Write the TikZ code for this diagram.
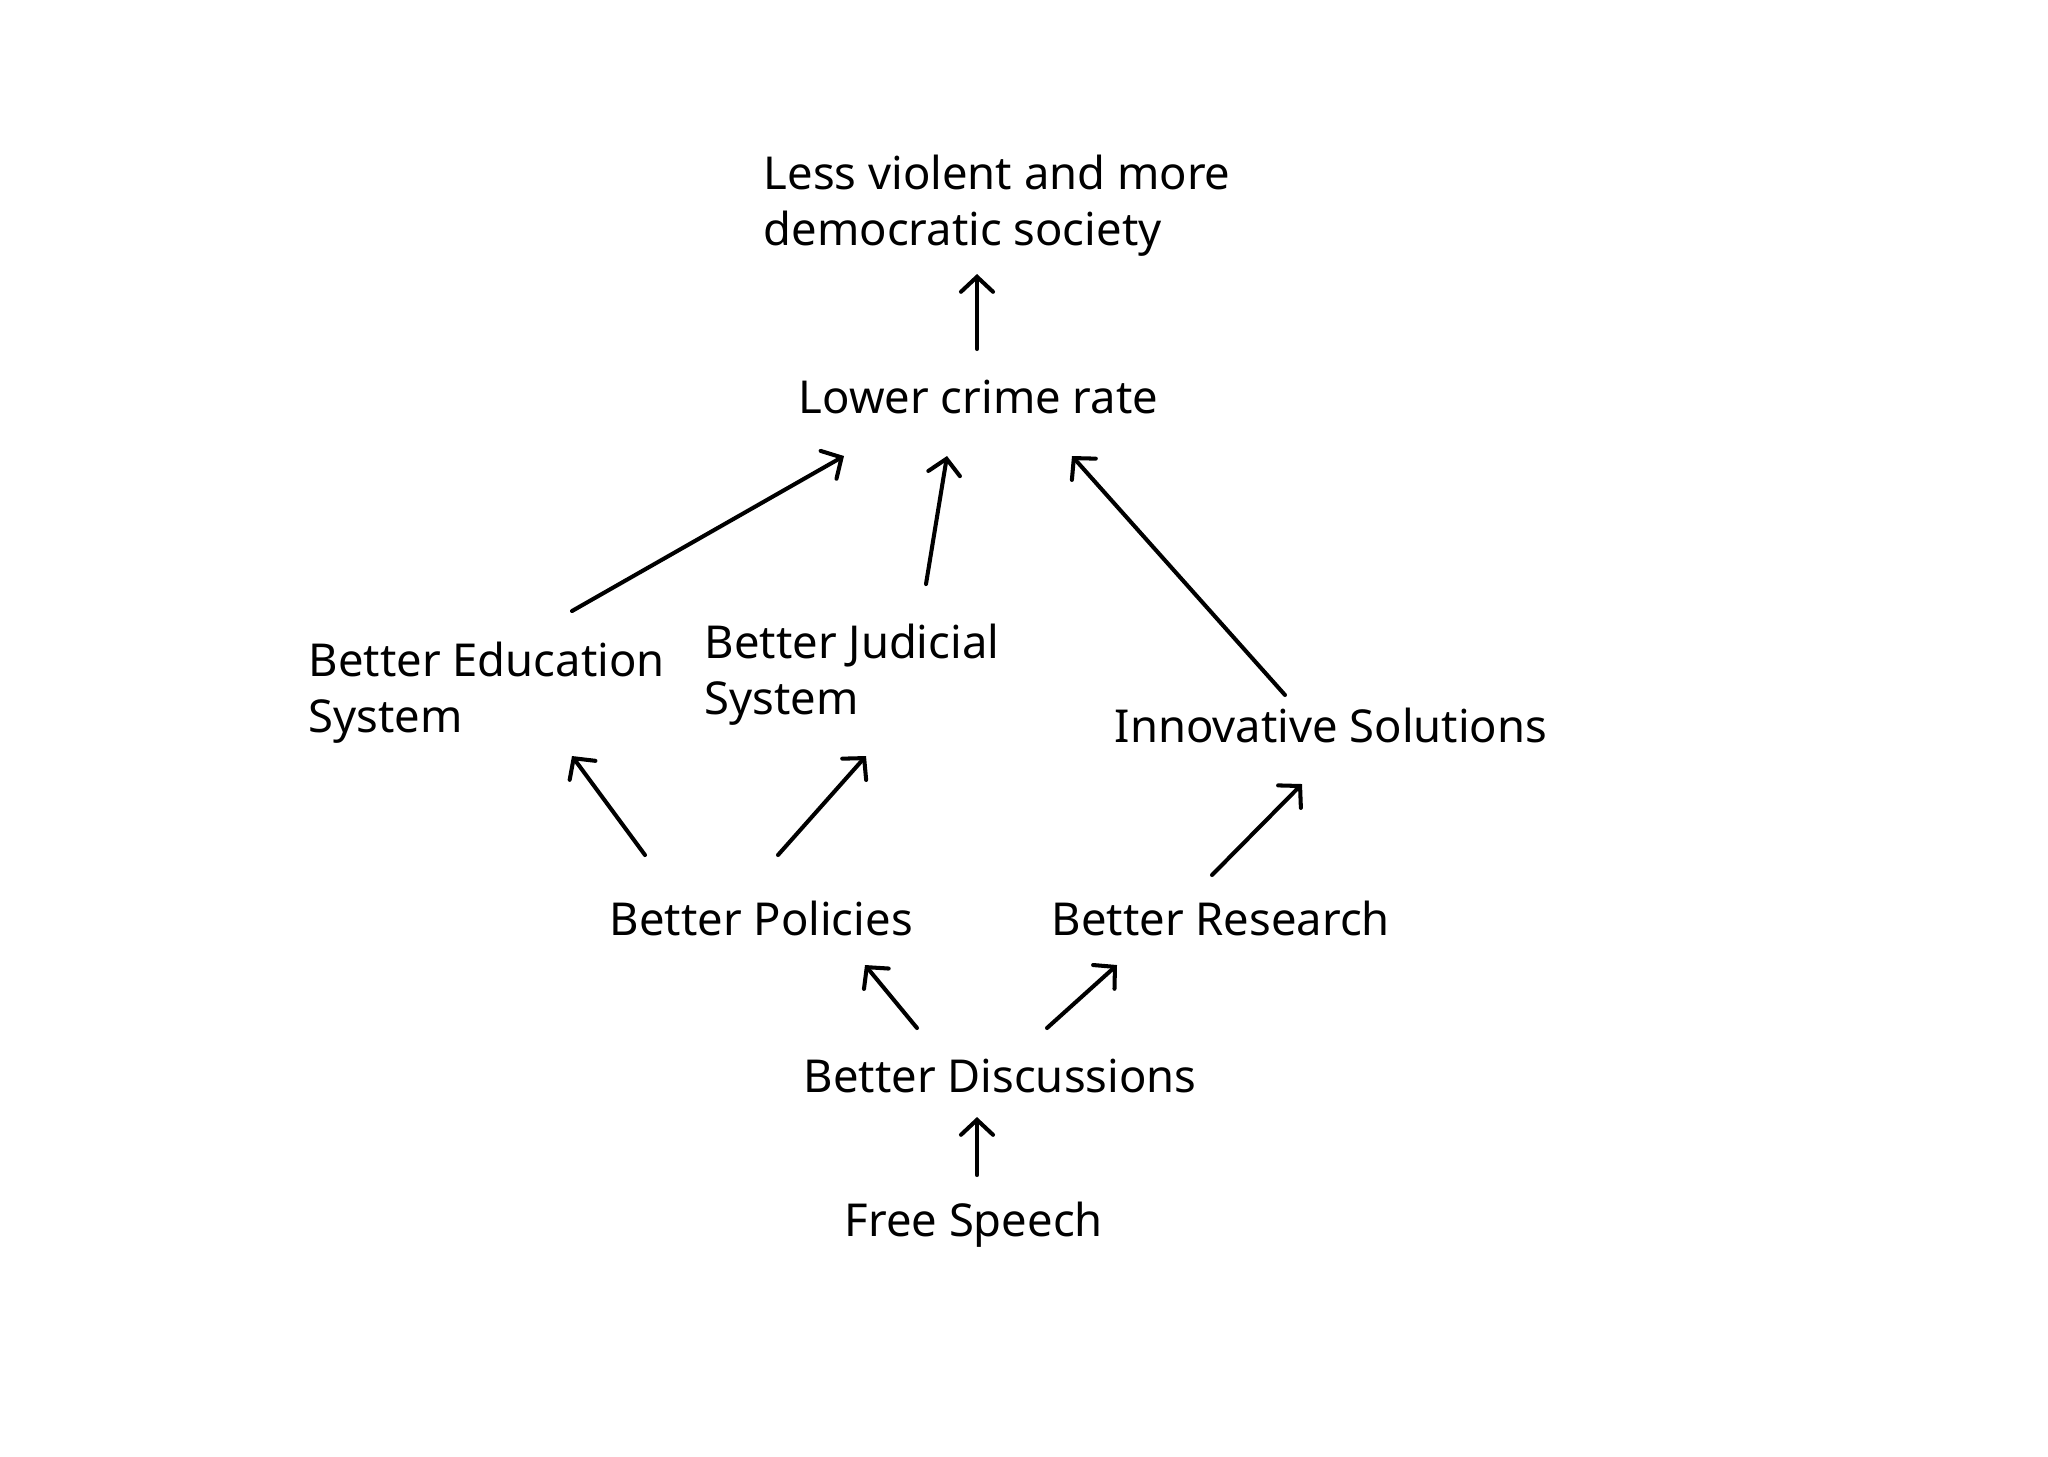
\documentclass[tikz,border=0pt]{standalone}
\usepackage{fontspec}
\setmainfont{Noto Sans}
\usetikzlibrary{arrows.meta}
\begin{document}
\begin{tikzpicture}[x=0.01cm,y=-0.01cm,
  lbl/.style={anchor=base west,inner sep=0pt,align=left,font=\fontsize{12.9pt}{15.8pt}\selectfont},
  arr/.style={-{Straight Barb[length=0.15cm,width=0.32cm,line cap=round]},line width=1.15pt,line cap=round}]
\useasboundingbox[fill=white] (0,0) rectangle (2048,1456);
\node[lbl] (top) at (763,245) {Less violent and more\\democratic society};
\node[lbl] (low) at (798,413) {Lower crime rate};
\node[lbl] (edu) at (308,732) {Better Education\\System};
\node[lbl] (jud) at (704,714) {Better Judicial\\System};
\node[lbl] (inn) at (1114,742) {Innovative Solutions};
\node[lbl] (pol) at (609,935) {Better Policies};
\node[lbl] (res) at (1051,935) {Better Research};
\node[lbl] (dis) at (803,1092) {Better Discussions};
\node[lbl] (fre) at (844,1236) {Free Speech};
\coordinate (a1s) at (977,349); \coordinate (a1e) at (977,274);
\coordinate (a2s) at (572,611); \coordinate (a2e) at (844,456);
\coordinate (a3s) at (926,584); \coordinate (a3e) at (947,456);
\coordinate (a4s) at (1285,695); \coordinate (a4e) at (1072,456);
\coordinate (a5s) at (645,855); \coordinate (a5e) at (572,756);
\coordinate (a6s) at (778,855); \coordinate (a6e) at (866,756);
\coordinate (a7s) at (1212,875); \coordinate (a7e) at (1302,784);
\coordinate (a8s) at (917,1028); \coordinate (a8e) at (865,965);
\coordinate (a9s) at (1047,1028); \coordinate (a9e) at (1117,965);
\coordinate (a10s) at (977,1175); \coordinate (a10e) at (977,1117);
\foreach \i in {1,...,10} \draw[arr] (a\i s) -- (a\i e);
\end{tikzpicture}
\end{document}
